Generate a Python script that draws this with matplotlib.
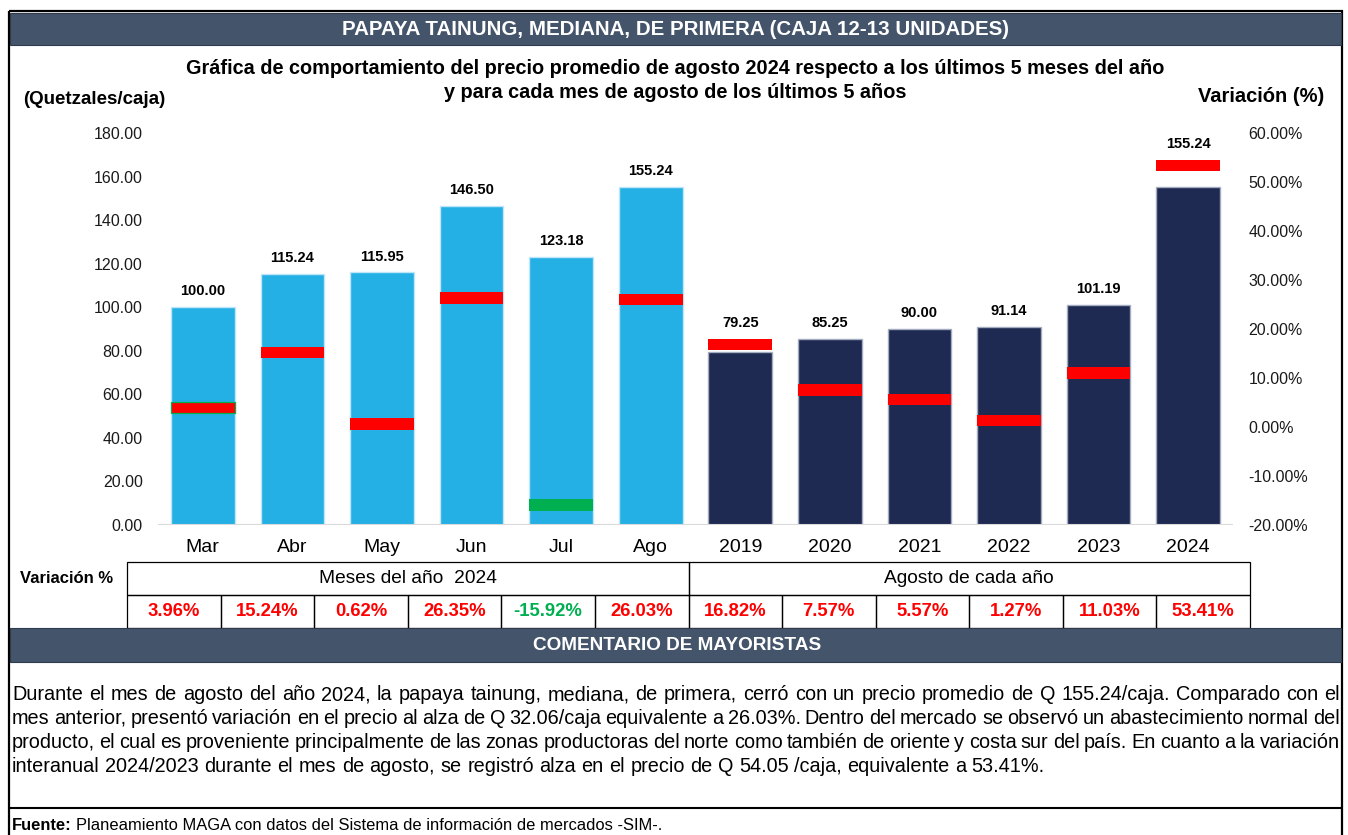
import matplotlib
matplotlib.use("Agg")
import matplotlib.pyplot as plt
import matplotlib.ticker as ticker
from matplotlib.patches import Rectangle
import numpy as np

plt.rcParams["font.family"] = ["Liberation Sans", "DejaVu Sans"]

# ---- Data ----
categories = ["Mar", "Abr", "May", "Jun", "Jul", "Ago",
              "2019", "2020", "2021", "2022", "2023", "2024"]
prices = [100.00, 115.24, 115.95, 146.50, 123.18, 155.24,
          79.25, 85.25, 90.00, 91.14, 101.19, 155.24]
variation = [3.96, 15.24, 0.62, 26.35, -15.92, 26.03,
             16.82, 7.57, 5.57, 1.27, 11.03, 53.41]
price_ticks = [0, 20, 40, 60, 80, 100, 120, 140, 160, 180]
var_ticks = [-20, -10, 0, 10, 20, 30, 40, 50, 60]
groups = ["Meses del año  2024", "Agosto de cada año"]

HEADER = "PAPAYA TAINUNG, MEDIANA, DE PRIMERA (CAJA 12-13 UNIDADES)"
TITLE_LINES = [
    "Gráfica de comportamiento del precio promedio de agosto 2024 respecto a los últimos 5 meses del año",
    "y para cada mes de agosto de los últimos 5 años",
]
COMMENT_LINES = [
    "Durante el mes de agosto del año 2024, la papaya tainung, mediana, de primera, cerró con un precio promedio de Q 155.24/caja. Comparado con el",
    "mes anterior, presentó variación en el precio al alza de Q 32.06/caja equivalente a 26.03%. Dentro del mercado se observó un abastecimiento normal del",
    "producto, el cual es proveniente principalmente de las zonas productoras del norte como también de oriente y costa sur del país. En cuanto a la variación",
    "interanual 2024/2023 durante el mes de agosto, se registró alza en el precio de Q 54.05 /caja, equivalente a 53.41%.",
]
SOURCE = "Planeamiento MAGA con datos del Sistema de información de mercados -SIM-."

LIGHT = "#25B0E5"
NAVY = "#1F2A52"
RED = "#FF0000"
GREEN = "#00B050"
SLATE = "#44546A"

W, H = 1348, 835
fig = plt.figure(figsize=(W / 100, H / 100), dpi=100)
renderer = fig.canvas.get_renderer()

# background axes in pixel coordinates for frames / text
bg = fig.add_axes([0, 0, 1, 1])
bg.set_xlim(0, W)
bg.set_ylim(H, 0)
bg.axis("off")

bg.add_patch(Rectangle((9, 11), 1333, 830, fill=False, ec="black", lw=1.6))
bg.add_patch(Rectangle((10, 13), 1331, 32, fc=SLATE, ec="#2F3B4C", lw=0.8))
bg.text(676, 29.5, HEADER, color="white", fontsize=14.8, fontweight="bold",
        ha="center", va="center")

bg.text(675, 68, TITLE_LINES[0], fontsize=14.3, fontweight="bold", ha="center", va="center")
bg.text(675, 92, TITLE_LINES[1], fontsize=14.3, fontweight="bold", ha="center", va="center")
bg.text(94, 100, "(Quetzales/caja)", fontsize=13.5, fontweight="bold", ha="center", va="center")
bg.text(1261, 96, "Variación (%)", fontsize=14.5, fontweight="bold", ha="center", va="center")

# ---- Chart ----
ax = fig.add_axes([158 / W, 1 - 525 / H, (1233 - 158) / W, (525 - 133) / H])
ax.patch.set_alpha(0)
x = np.arange(len(categories))
n_month = 6
bar_colors = [LIGHT] * n_month + [NAVY] * (len(categories) - n_month)
bar_edges = ["#BFE6F8"] * n_month + ["#A4ADC0"] * (len(categories) - n_month)
ax.bar(x, prices, width=0.71, color=bar_colors, edgecolor=bar_edges, linewidth=1.0, zorder=2)
ax.axhline(0, color="#D9D9D9", lw=1.5, zorder=3)
ax.set_xlim(-0.5, len(categories) - 0.5)
ax.set_ylim(0, 180)
ax.set_yticks(price_ticks)
ax.yaxis.set_major_formatter(ticker.FormatStrFormatter("%.2f"))
ax.set_xticks(x)
ax.set_xticklabels(categories, fontsize=14)
ax.tick_params(axis="x", length=0, pad=10)
ax.tick_params(axis="y", length=0, pad=11, labelsize=11.5, labelcolor="#1A1A1A")
for s in ax.spines.values():
    s.set_visible(False)

ax2 = ax.twinx()
ax2.set_ylim(-20, 60)
mark_h = 2.3
var = np.array(variation)
mark_colors = [RED if v >= 0 else GREEN for v in variation]
mark_edges = ["none"] * len(variation)
mark_edges[0] = GREEN
ax2.bar(x, [mark_h] * len(x), bottom=var - mark_h / 2, width=0.71,
        color=mark_colors, edgecolor=mark_edges, linewidth=0.9, zorder=3)
ax2.set_yticks(var_ticks)
ax2.yaxis.set_major_formatter(ticker.FuncFormatter(lambda v, p: f"{v:.2f}%"))
ax2.tick_params(axis="y", length=0, pad=11, labelsize=11.5, labelcolor="#1A1A1A")
for s in ax2.spines.values():
    s.set_visible(False)

# data labels above the bar or the marker, whichever is higher
for xi, p, v in zip(x, prices, variation):
    mark_top = (v + mark_h / 2 + 20) * 180 / 80
    top = max(p, mark_top)
    ax.annotate(f"{p:.2f}", (xi, top), xytext=(0, 11.5), textcoords="offset points",
                ha="center", va="center", fontsize=10.5, fontweight="bold")

# ---- Table ----
cell_l, cell_r = 127, 1250
cw = (cell_r - cell_l) / len(categories)
r1, r2, r3 = 562, 595, 628
bg.text(67, 578.5, "Variación %", fontsize=12, fontweight="bold", ha="center", va="center")
for g, label in enumerate(groups):
    gx = cell_l + g * n_month * cw
    bg.add_patch(Rectangle((gx, r1), n_month * cw, r2 - r1, fill=False, ec="black", lw=0.9))
    bg.text(gx + n_month * cw / 2, 578.5, label, fontsize=13.8, ha="center", va="center")
for i, v in enumerate(variation):
    cx = cell_l + i * cw
    bg.add_patch(Rectangle((cx, r2), cw, r3 - r2, fill=False, ec="black", lw=0.9))
    bg.text(cx + cw / 2, 611.5, f"{v:.2f}%", fontsize=13.3, fontweight="bold",
            color=RED if v >= 0 else GREEN, ha="center", va="center")

# ---- Comment ----
bg.add_patch(Rectangle((10, 628), 1331, 34, fc=SLATE, ec="#2F3B4C", lw=0.8))
bg.text(677, 645, "COMENTARIO DE MAYORISTAS", color="white", fontsize=13.7,
        fontweight="bold", ha="center", va="center")


def text_width(s, **kw):
    t = bg.text(0, 0, s, **kw)
    w = t.get_window_extent(renderer).width
    t.remove()
    return w


def justify(line, y, x0, x1, last=False, **kw):
    words = line.split()
    texts = [bg.text(0, y, w, ha="left", va="center", **kw) for w in words]
    widths = [t.get_window_extent(renderer).width for t in texts]
    if last:
        gap = text_width("x x", **kw) - text_width("xx", **kw)
    else:
        gap = (x1 - x0 - sum(widths)) / (len(words) - 1)
    xp = x0
    for t, w in zip(texts, widths):
        t.set_x(xp)
        xp += w + gap


for k, (line, y) in enumerate(zip(COMMENT_LINES, [695, 718.5, 742, 766])):
    justify(line, y, 12, 1340, last=(k == len(COMMENT_LINES) - 1), fontsize=14.3)

bg.plot([10, 1341], [808, 808], color="black", lw=1.5)
fw = text_width("Fuente: ", fontsize=11.9, fontweight="bold")
bg.text(12, 826, "Fuente:", fontsize=11.9, fontweight="bold", ha="left", va="center")
bg.text(12 + fw, 826, SOURCE, fontsize=11.9, ha="left", va="center")

fig.savefig("out.png", dpi=100)
